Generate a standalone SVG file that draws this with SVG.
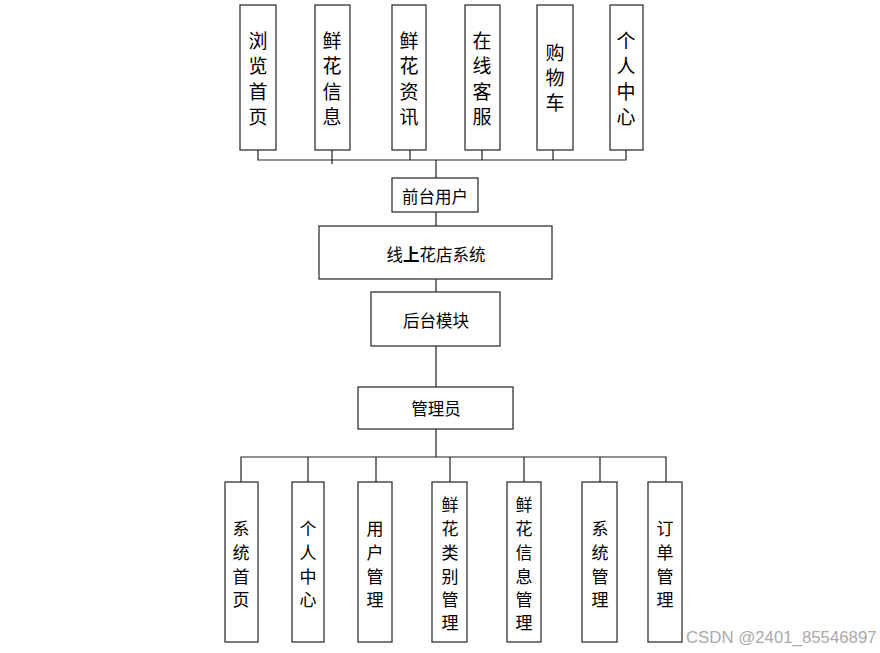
<svg xmlns="http://www.w3.org/2000/svg" width="880" height="653" viewBox="0 0 880 653">
<style>
.box{fill:#fff;stroke:#222;stroke-width:1.2}
.ln{fill:none;stroke:#222;stroke-width:1.2}
.t{font-family:"Noto Sans CJK SC","Noto Sans",sans-serif;fill:#000;text-anchor:middle;dominant-baseline:central}
.v{font-size:19px}
.vb{font-size:17px}
.h{font-size:16.5px}
.wm{font-family:"Liberation Sans",Arial,sans-serif;font-size:16.8px;fill:#aaa}
</style>
<rect width="880" height="653" fill="#fff"/>
<g id="connectors">
<path class="ln" d="M258,150V160H626V150M332,150V164M410,150V160M482,150V160M553,150V160"/>
<path class="ln" d="M436,160V178M436,212V226M436,279V292M436,346V387M436,429V457"/>
<path class="ln" d="M241,482V457H666V482M308,457V482M376,457V482M450,457V482M524,457V482M600,457V482"/>
</g>
<g id="top1"><rect class="box" x="240" y="5" width="36" height="145"/><text class="t v"><tspan x="258" y="39">浏</tspan><tspan x="258" y="64">览</tspan><tspan x="258" y="90">首</tspan><tspan x="258" y="115">页</tspan></text></g>
<g id="top2"><rect class="box" x="315" y="5" width="35" height="145"/><text class="t v"><tspan x="332" y="39">鲜</tspan><tspan x="332" y="64">花</tspan><tspan x="332" y="90">信</tspan><tspan x="332" y="115">息</tspan></text></g>
<g id="top3"><rect class="box" x="392" y="5" width="34" height="145"/><text class="t v"><tspan x="409" y="39">鲜</tspan><tspan x="409" y="64">花</tspan><tspan x="409" y="90">资</tspan><tspan x="409" y="115">讯</tspan></text></g>
<g id="top4"><rect class="box" x="465" y="5" width="35" height="145"/><text class="t v"><tspan x="482" y="39">在</tspan><tspan x="482" y="64">线</tspan><tspan x="482" y="90">客</tspan><tspan x="482" y="115">服</tspan></text></g>
<g id="top5"><rect class="box" x="537" y="5" width="36" height="145"/><text class="t v"><tspan x="555" y="51">购</tspan><tspan x="555" y="76">物</tspan><tspan x="555" y="101">车</tspan></text></g>
<g id="top6"><rect class="box" x="610" y="5" width="33" height="145"/><text class="t v"><tspan x="626" y="39">个</tspan><tspan x="626" y="64">人</tspan><tspan x="626" y="90">中</tspan><tspan x="626" y="115">心</tspan></text></g>
<g id="frontUser"><rect class="box" x="392" y="178" width="86" height="34"/><text class="t h" x="435" y="196">前台用户</text></g>
<g id="system"><rect class="box" x="319" y="226" width="233" height="53"/><text class="t h" x="436" y="254">线<tspan font-weight="bold">上</tspan>花店系统</text></g>
<g id="backend"><rect class="box" x="371" y="292" width="129" height="54"/><text class="t h" x="436" y="320">后台模块</text></g>
<g id="admin"><rect class="box" x="358" y="387" width="155" height="42"/><text class="t h" x="436" y="408">管理员</text></g>
<g id="b1"><rect class="box" x="225" y="482" width="33" height="160"/><text class="t vb"><tspan x="241" y="527">系</tspan><tspan x="241" y="551">统</tspan><tspan x="241" y="575">首</tspan><tspan x="241" y="598">页</tspan></text></g>
<g id="b2"><rect class="box" x="292" y="482" width="32" height="160"/><text class="t vb"><tspan x="308" y="527">个</tspan><tspan x="308" y="551">人</tspan><tspan x="308" y="575">中</tspan><tspan x="308" y="598">心</tspan></text></g>
<g id="b3"><rect class="box" x="358" y="482" width="34" height="160"/><text class="t vb"><tspan x="375" y="527">用</tspan><tspan x="375" y="551">户</tspan><tspan x="375" y="575">管</tspan><tspan x="375" y="598">理</tspan></text></g>
<g id="b4"><rect class="box" x="432" y="482" width="35" height="160"/><text class="t vb"><tspan x="450" y="503">鲜</tspan><tspan x="450" y="527">花</tspan><tspan x="450" y="551">类</tspan><tspan x="450" y="575">别</tspan><tspan x="450" y="598">管</tspan><tspan x="450" y="621">理</tspan></text></g>
<g id="b5"><rect class="box" x="507" y="482" width="34" height="160"/><text class="t vb"><tspan x="524" y="503">鲜</tspan><tspan x="524" y="527">花</tspan><tspan x="524" y="551">信</tspan><tspan x="524" y="575">息</tspan><tspan x="524" y="598">管</tspan><tspan x="524" y="621">理</tspan></text></g>
<g id="b6"><rect class="box" x="582" y="482" width="35" height="160"/><text class="t vb"><tspan x="600" y="527">系</tspan><tspan x="600" y="551">统</tspan><tspan x="600" y="575">管</tspan><tspan x="600" y="598">理</tspan></text></g>
<g id="b7"><rect class="box" x="648" y="482" width="34" height="160"/><text class="t vb"><tspan x="665" y="527">订</tspan><tspan x="665" y="551">单</tspan><tspan x="665" y="575">管</tspan><tspan x="665" y="598">理</tspan></text></g>
<text class="wm" x="686" y="643">CSDN @2401_85546897</text>
</svg>
